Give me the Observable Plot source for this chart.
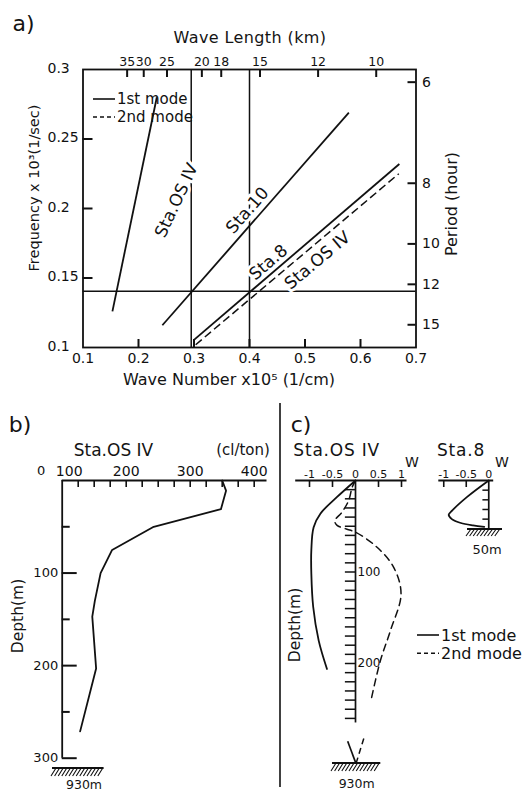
<!DOCTYPE html>
<html>
<head>
<meta charset="utf-8">
<script src="https://cdn.jsdelivr.net/npm/d3@7"></script>
<script src="https://cdn.jsdelivr.net/npm/@observablehq/plot@0.6"></script>
<style>
  html, body { margin: 0; padding: 0; background: #fff; }
  #root { position: relative; width: 523px; height: 793px; overflow: hidden; background: #fff;
          font-family: "DejaVu Sans", sans-serif; color: #141414; }
  #root > svg { position: absolute; }
  .lbl { position: absolute; white-space: nowrap; line-height: 1; }
</style>
</head>
<body>
<div id="root"></div>
<script>
// ================= DATA =================
// Panel a: dispersion relations
const waveNumberTicks = [0.1, 0.2, 0.3, 0.4, 0.5, 0.6, 0.7];       // x10^5 1/cm
const frequencyTicks = [0.1, 0.15, 0.2, 0.25, 0.3];                 // x10^3 1/sec
const waveLengthTicksKm = [35, 30, 25, 20, 18, 15, 12, 10];
const periodTicksHour = [6, 8, 10, 12, 15];
const curveStation = ["Sta.OS IV", "Sta.10", "Sta.8", "Sta.OS IV"];
const curveMode = ["1st", "1st", "1st", "2nd"];
const curveK1 = [0.153, 0.243, 0.300, 0.303];
const curveF1 = [0.126, 0.116, 0.1055, 0.102];
const curveK2 = [0.233, 0.579, 0.670, 0.669];
const curveF2 = [0.280, 0.269, 0.232, 0.225];
const labelK = [0.2685, 0.3964, 0.4342, 0.5225];
const labelF = [0.2058, 0.1986, 0.1612, 0.1626];
const labelAngle = [-65, -49, -40.5, -40];
const refWaveNumbers = [0.295, 0.4];
const refFrequencies = [0.1405];
const legendLabels = ["1st mode", "2nd mode"];
const legendDash = ["none", "4,3"];

// Panel b: chlorinity profile at Sta.OS IV
const chlorDepth = [0, 11, 31, 50, 75, 100, 130, 147, 203, 271];
const chlorValue = [350, 356, 348, 243, 178, 160, 151, 147, 153, 128];
const chlorLabelTicks = [200, 300, 400];
const chlorFirstTick = [100];
const chlorMinorTicks = [125, 150, 175, 200, 225, 250, 275, 300, 325, 350, 375, 400];
const depthMajorB = [100, 200, 300];
const depthMinorB = [50, 150, 250];

// Panel c: vertical eigenfunctions W
const osMode1Depth = [0, 18, 36, 51, 76, 102, 138, 175, 206];
const osMode1W = [0, -0.40, -0.76, -0.91, -0.96, -0.96, -0.92, -0.80, -0.62];
const osMode2Depth = [0, 7, 22, 35, 44, 49, 53, 56.5, 73, 95, 124, 164, 197, 242];
const osMode2W = [0, -0.07, -0.15, -0.30, -0.45, -0.40, -0.20, 0, 0.47, 0.83, 0.99, 0.76, 0.54, 0.33];
const osTailMode = ["1st", "2nd"];
const osTailW1 = [-0.17, 0.18];
const osTailD1 = [285, 282];
const osTailW2 = [0, 0.02];
const osTailD2 = [308, 308];          // bottom (930 m) on the broken axis
const osDepthTicks = [10,20,30,40,50,60,70,80,90,100,110,120,130,140,150,160,170,180,190,200,210,220,230,240,250,260];
const osDepthLabels = [100, 200];
const wTicksOS = [-1, -0.5, 0, 0.5, 1];
const sta8Depth = [0, 17, 31, 35.5, 40, 44, 46.5, 48];
const sta8W = [0, -0.48, -0.81, -0.89, -0.82, -0.62, -0.35, -0.10];
const sta8DepthTicks = [10, 20, 30, 40];
const wTicksSta8 = [-1, -0.5, 0];

// ================= HELPERS =================
const ink = "#111";
const FONT = "'DejaVu Sans', sans-serif";
const root = document.getElementById("root");

function place(el, left, top) {
  el.style.left = left + "px";
  el.style.top = top + "px";
  root.appendChild(el);
}
function label(text, x, y, size, opts = {}) {
  const el = document.createElement("div");
  el.className = "lbl";
  el.textContent = text;
  const rot = opts.rotate || 0;
  const tx = opts.anchor === "start" ? "0" : opts.anchor === "end" ? "-100%" : "-50%";
  el.style.fontSize = size + "px";
  if (opts.spacing) el.style.letterSpacing = opts.spacing + "px";
  el.style.transform = `translate(${tx},-50%) rotate(${rot}deg)`;
  place(el, x, y);
}
function hatch(x, y, w, h) {
  const svg = d3.create("svg").attr("width", w + 12).attr("height", h + 4).style("overflow", "visible");
  svg.append("line").attr("x1", 6).attr("x2", 6 + w).attr("y1", 1).attr("y2", 1)
    .attr("stroke", ink).attr("stroke-width", 1.8);
  let d = "";
  for (let s = 10; s <= 6 + w; s += 3.6) d += `M${s},1L${s - 5},${h + 1}`;
  svg.append("path").attr("d", d).attr("stroke", ink).attr("stroke-width", 1.1).attr("fill", "none");
  const n = svg.node();
  n.style.position = "absolute";
  place(n, x - 6, y - 1);
}
function legend(x, y, rowGap, lineLen, size) {
  const svg = d3.create("svg").attr("width", 140).attr("height", rowGap * 2 + 10).style("overflow", "visible");
  legendLabels.forEach((t, i) => {
    const yy = 6 + i * rowGap;
    svg.append("line").attr("x1", 0).attr("x2", lineLen).attr("y1", yy).attr("y2", yy)
      .attr("stroke", ink).attr("stroke-width", 1.6).attr("stroke-dasharray", legendDash[i]);
    svg.append("text").attr("x", lineLen + 2).attr("y", yy).attr("dy", "0.35em")
      .attr("font-size", size).attr("font-family", FONT).attr("fill", ink).text(t);
  });
  const n = svg.node();
  n.style.position = "absolute";
  place(n, x, y - 6);
}
// Inward tick marks drawn as rules on the chart's scales. `at` is the edge value of the
// other scale, `len` is the tick length in that scale's units (converted from pixels).
function ticksX(ticks, at, len, sw = 2) {
  return Plot.ruleX(ticks, {y1: at, y2: at + len, stroke: ink, strokeWidth: sw});
}
function ticksY(ticks, at, len, sw = 2) {
  return Plot.ruleY(ticks, {x1: at, x2: at + len, stroke: ink, strokeWidth: sw});
}
const pxToUnits = (px, domain, span) => px / span * (domain[1] - domain[0]);
const baseStyle = {background: "transparent", color: ink, fontFamily: FONT, overflow: "visible"};

// ================= PANEL a =================
const curves = curveStation.map((s, i) => ({station: s, mode: curveMode[i], k1: curveK1[i], f1: curveF1[i], k2: curveK2[i], f2: curveF2[i]}));
const curveLabels = curveStation.map((s, i) => ({text: s, k: labelK[i], f: labelF[i], angle: labelAngle[i]}));
const kFromLambda = L => 2 * Math.PI / L;
const fFromPeriod = T => 2 * Math.PI / (T * 3.6);
const kWaveLength = waveLengthTicksKm.map(kFromLambda);
const fPeriod = periodTicksHour.map(fFromPeriod);

const A = {width: 523, height: 400, marginTop: 69, marginRight: 107.5, marginBottom: 53, marginLeft: 82.5};
const AW = A.width - A.marginLeft - A.marginRight, AH = A.height - A.marginTop - A.marginBottom;
const AX = [0.1, 0.7], AY = [0.1, 0.3];
const plotA = Plot.plot({
  ...A,
  style: {...baseStyle, fontSize: "14px"},
  x: {domain: AX, label: null, axis: null},
  y: {domain: AY, label: null, axis: null},
  marks: [
    Plot.ruleX(refWaveNumbers, {stroke: ink, strokeWidth: 1.5}),
    Plot.ruleY(refFrequencies, {stroke: ink, strokeWidth: 1.5}),
    Plot.text(curveLabels, {x: "k", y: "f", text: "text", rotate: "angle", fontSize: 17, fill: ink, stroke: "white", strokeWidth: 6}),
    Plot.link(curves.filter(d => d.mode === "1st"), {x1: "k1", y1: "f1", x2: "k2", y2: "f2", stroke: ink, strokeWidth: 1.8}),
    Plot.link(curves.filter(d => d.mode === "2nd"), {x1: "k1", y1: "f1", x2: "k2", y2: "f2", stroke: ink, strokeWidth: 1.5, strokeDasharray: "8,4"}),
    Plot.frame({stroke: ink, strokeWidth: 1.8}),
    ticksX(waveNumberTicks.slice(1, -1), AY[0], pxToUnits(8, AY, AH)),
    ticksX(kWaveLength, AY[1], -pxToUnits(8, AY, AH)),
    ticksY(frequencyTicks.slice(1, -1), AX[0], pxToUnits(10, AX, AW)),
    ticksY(fPeriod, AX[1], -pxToUnits(8, AX, AW)),
    Plot.axisX({anchor: "bottom", ticks: waveNumberTicks, tickSize: 0, tickPadding: 6, tickFormat: d3.format(".1f"), label: null, fontSize: 14}),
    Plot.axisX({anchor: "top", ticks: kWaveLength, tickSize: 0, tickPadding: 4, tickFormat: k => Math.round(2 * Math.PI / k), label: null, fontSize: 12.5}),
    Plot.axisY({anchor: "left", ticks: frequencyTicks, tickSize: 0, tickPadding: 35.5, textAnchor: "start", dy: -1, tickFormat: d => String(d), label: null, fontSize: 14}),
    Plot.axisY({anchor: "right", ticks: fPeriod, tickSize: 0, tickPadding: 6, tickFormat: f => Math.round(2 * Math.PI / (f * 3.6)), label: null, fontSize: 14})
  ]
});
plotA.style.position = "absolute";
place(plotA, 0, 0);

label("a)", 23.5, 23.5, 22);
label("Wave Length (km)", 250, 38, 16, {spacing: 0.4});
label("Wave Number x10⁵  (1/cm)", 229, 380, 16);
label("Frequency x 10³(1/sec)", 34, 188, 14.5, {rotate: -90});
label("Period (hour)", 452, 204, 16, {rotate: -90});
legend(92.5, 99, 18, 22, 15);

// ================= PANEL b =================
const chlorProfile = chlorDepth.map((d, i) => ({depth: d, chlor: chlorValue[i]}));
const B = {width: 290, height: 393, marginTop: 80, marginRight: 23.5, marginBottom: 35.3, marginLeft: 61.7};
const BW = B.width - B.marginLeft - B.marginRight, BH = B.height - B.marginTop - B.marginBottom;
const BX = [100, 420], BY = [0, 300];
const plotB = Plot.plot({
  ...B,
  style: {...baseStyle, fontSize: "14px"},
  x: {domain: BX, label: null, axis: null},
  y: {domain: BY, reverse: true, label: null, axis: null},
  marks: [
    Plot.ruleY([0], {stroke: ink, strokeWidth: 1.8}),
    Plot.ruleX([100], {stroke: ink, strokeWidth: 1.8}),
    Plot.line(chlorProfile, {x: "chlor", y: "depth", stroke: ink, strokeWidth: 1.8}),
    ticksX(chlorMinorTicks, BY[0], pxToUnits(7, BY, BH), 1.6),
    ticksY(depthMajorB, BX[0], pxToUnits(15, BX, BW)),
    ticksY(depthMinorB, BX[0], pxToUnits(8, BX, BW)),
    Plot.axisX({anchor: "top", ticks: chlorLabelTicks, tickSize: 0, tickPadding: 5, label: null, fontSize: 14}),
    Plot.axisX({anchor: "top", ticks: chlorFirstTick, tickSize: 0, tickPadding: 5, dx: 7, label: null, fontSize: 14}),
    Plot.axisY({anchor: "left", ticks: depthMajorB, tickSize: 0, tickPadding: 4, label: null, fontSize: 13}),
    Plot.axisY({anchor: "left", ticks: [0], tickSize: 0, tickPadding: 17, dy: -10, label: null, fontSize: 13})
  ]
});
plotB.style.position = "absolute";
place(plotB, 0, 400);

label("b)", 20, 425, 22);
label("Sta.OS IV", 113.5, 450, 17);
label("(cl/ton)", 243, 450, 15);
label("Depth(m)", 19, 616, 15.5, {rotate: -90});
hatch(51.7, 768.3, 51.6, 8);
label("930m", 84, 785, 12.5);

// ================= PANEL c (Sta.OS IV) =================
const osMode1 = osMode1Depth.map((d, i) => ({depth: d, w: osMode1W[i]}));
const osMode2 = osMode2Depth.map((d, i) => ({depth: d, w: osMode2W[i]}));
const osTail = osTailMode.map((m, i) => ({mode: m, w1: osTailW1[i], d1: osTailD1[i], w2: osTailW2[i], d2: osTailD2[i]}));
const C = {width: 160, height: 393, marginTop: 80, marginRight: 33.48, marginBottom: 29.35, marginLeft: 15.2};
const CH = C.height - C.marginTop - C.marginBottom;
const CY = [0, 310];
const plotC = Plot.plot({
  ...C,
  style: {...baseStyle, fontSize: "11px"},
  x: {domain: [-1.3, 1.12], label: null, axis: null},
  y: {domain: CY, reverse: true, label: null, axis: null},
  marks: [
    Plot.ruleY([0], {stroke: ink, strokeWidth: 1.8}),
    Plot.ruleX([0], {y1: 0, y2: 265, stroke: ink, strokeWidth: 1.7}),
    ticksY(osDepthTicks, 0, -0.22, 1.5),
    Plot.text(osDepthLabels, {x: 0, y: d => d, text: d => String(d), dx: 2, textAnchor: "start", fontSize: 12, fill: ink}),
    ticksX(wTicksOS.filter(d => d !== 0), 0, pxToUnits(7, CY, CH), 1.6),
    Plot.axisX({anchor: "top", ticks: wTicksOS, tickSize: 0, tickPadding: 3, tickFormat: d => String(d), label: null, fontSize: 11}),
    Plot.line(osMode1, {x: "w", y: "depth", curve: "catmull-rom", stroke: ink, strokeWidth: 1.8}),
    Plot.line(osMode2, {x: "w", y: "depth", curve: "catmull-rom", stroke: ink, strokeWidth: 1.5, strokeDasharray: "7,5"}),
    Plot.link(osTail.filter(d => d.mode === "1st"), {x1: "w1", y1: "d1", x2: "w2", y2: "d2", stroke: ink, strokeWidth: 1.7}),
    Plot.link(osTail.filter(d => d.mode === "2nd"), {x1: "w1", y1: "d1", x2: "w2", y2: "d2", stroke: ink, strokeWidth: 1.5, strokeDasharray: "6,4"})
  ]
});
plotC.style.position = "absolute";
place(plotC, 280, 400);

// ================= PANEL c (Sta.8) =================
const sta8Mode1 = sta8Depth.map((d, i) => ({depth: d, w: sta8W[i]}));
const D = {width: 93, height: 160, marginTop: 80, marginRight: 29.8, marginBottom: 31.7, marginLeft: 8.3};
const DH = D.height - D.marginTop - D.marginBottom;
const DY = [0, 50];
const plotD = Plot.plot({
  ...D,
  style: {...baseStyle, fontSize: "11px"},
  x: {domain: [-1.11, 0.11], label: null, axis: null},
  y: {domain: DY, reverse: true, label: null, axis: null},
  marks: [
    Plot.ruleY([0], {stroke: ink, strokeWidth: 1.8}),
    Plot.ruleX([0], {stroke: ink, strokeWidth: 1.7}),
    ticksY(sta8DepthTicks, 0, -0.13, 1.5),
    ticksX(wTicksSta8.filter(d => d !== 0), 0, pxToUnits(7, DY, DH), 1.6),
    Plot.axisX({anchor: "top", ticks: wTicksSta8, tickSize: 0, tickPadding: 3, tickFormat: d => String(d), label: null, fontSize: 11}),
    Plot.line(sta8Mode1, {x: "w", y: "depth", curve: "catmull-rom", stroke: ink, strokeWidth: 1.8})
  ]
});
plotD.style.position = "absolute";
place(plotD, 430, 400);

label("c)", 301, 425, 22);
label("Sta.OS IV", 336.7, 450, 17, {spacing: 0.8});
label("Sta.8", 461, 450, 17, {spacing: 0.8});
label("W", 412, 462, 14);
label("W", 502, 462, 14);
label("Depth(m)", 295.5, 625, 15.5, {rotate: -90});
hatch(331.7, 762.7, 48.3, 8);
label("930m", 356.7, 784, 12.5);
hatch(466.7, 529.3, 35, 7);
label("50m", 487, 549, 13);
legend(416.5, 635, 18.3, 22, 16);

// separator between b and c
const sep = d3.create("svg").attr("width", 4).attr("height", 390);
sep.append("line").attr("x1", 2).attr("x2", 2).attr("y1", 0).attr("y2", 384).attr("stroke", ink).attr("stroke-width", 1.6);
const sepNode = sep.node();
sepNode.style.position = "absolute";
place(sepNode, 278, 403);
</script>
</body>
</html>
